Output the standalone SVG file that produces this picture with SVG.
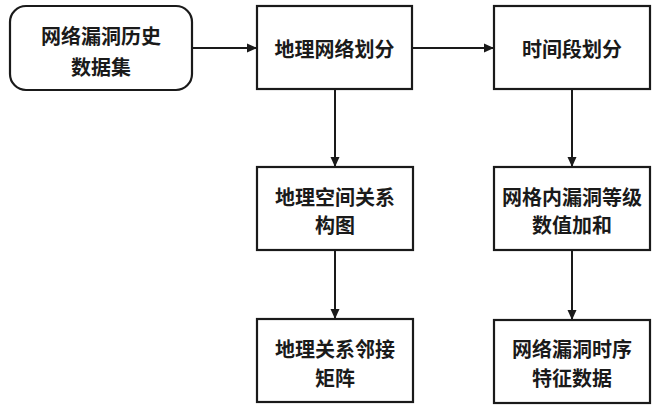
<svg xmlns="http://www.w3.org/2000/svg" width="660" height="413" viewBox="0 0 660 413">
<style>
.box{fill:#fff;stroke:#1a1a1a;stroke-width:2.2}
.t{font-family:"Noto Sans CJK SC","Noto Sans",sans-serif;font-size:20px;font-weight:bold;fill:#1a1a1a;text-anchor:middle;dominant-baseline:central}
.c{stroke:#1a1a1a;stroke-width:2;fill:none;marker-end:url(#ah)}
</style>
<defs>
<marker id="ah" markerWidth="10" markerHeight="10" refX="9" refY="5" orient="auto" markerUnits="userSpaceOnUse">
<path d="M0,0.5 L10,5 L0,9.5 Z" fill="#1a1a1a"/>
</marker>
</defs>
<rect width="660" height="413" fill="#fff"/>
<g id="connectors">
<line class="c" x1="192" y1="48" x2="256" y2="48"/>
<line class="c" x1="412" y1="48" x2="493" y2="48"/>
<line class="c" x1="335" y1="89" x2="335" y2="166"/>
<line class="c" x1="572" y1="89" x2="572" y2="166"/>
<line class="c" x1="335" y1="250" x2="335" y2="318"/>
<line class="c" x1="572" y1="250" x2="572" y2="319"/>
</g>
<g id="n1">
<rect class="box" x="10" y="6" width="182" height="84" rx="16"/>
<text class="t" x="101" y="35">网络漏洞历史</text>
<text class="t" x="101" y="66">数据集</text>
</g>
<g id="n2">
<rect class="box" x="257" y="6" width="155" height="83"/>
<text class="t" x="334.5" y="48">地理网络划分</text>
</g>
<g id="n3">
<rect class="box" x="494" y="6" width="156" height="83"/>
<text class="t" x="572" y="48">时间段划分</text>
</g>
<g id="n4">
<rect class="box" x="257" y="167" width="156" height="83"/>
<text class="t" x="335" y="196">地理空间关系</text>
<text class="t" x="335" y="224">构图</text>
</g>
<g id="n5">
<rect class="box" x="494" y="167" width="156" height="83"/>
<text class="t" x="572" y="196">网格内漏洞等级</text>
<text class="t" x="572" y="224">数值加和</text>
</g>
<g id="n6">
<rect class="box" x="257" y="319" width="156" height="83"/>
<text class="t" x="335" y="348">地理关系邻接</text>
<text class="t" x="335" y="377">矩阵</text>
</g>
<g id="n7">
<rect class="box" x="494" y="320" width="156" height="83"/>
<text class="t" x="572" y="348">网络漏洞时序</text>
<text class="t" x="572" y="377">特征数据</text>
</g>
</svg>
